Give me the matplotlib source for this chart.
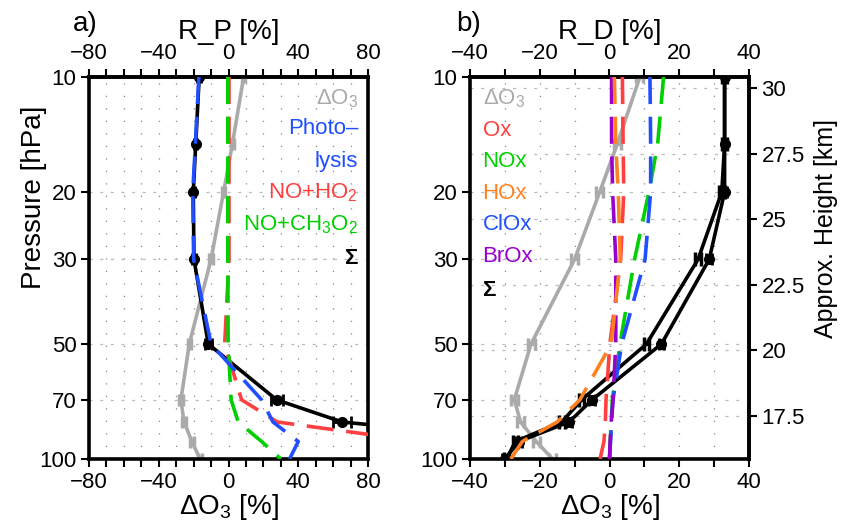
import numpy as np
import matplotlib
matplotlib.use("Agg")
import matplotlib.pyplot as plt
from matplotlib.ticker import NullLocator, FixedLocator, FixedFormatter

plt.rcParams['font.family'] = ['Liberation Sans', 'DejaVu Sans']
plt.rcParams['mathtext.fontset'] = 'custom'
plt.rcParams['mathtext.rm'] = 'Liberation Sans'
plt.rcParams['mathtext.bf'] = 'Liberation Sans:bold'

# ---------------- data ----------------
pressure = [10, 15, 20, 30, 50, 70, 80, 90, 100]          # hPa
d_o3 = [8.7, 2.2, -2.8, -10.0, -22.5, -27.3, -25.5, -21.0, -16.3]
d_o3_err = [1.0, 1.0, 1.0, 1.0, 1.0, 1.0, 1.0, 1.0, 1.0]

# panel a) R_P
rp_photolysis = [-17.0, -19.0, -20.5, -20.0, -10.0, 19.0, 25.5, 40.0, 35.0]
rp_no_ho2 = [0.3, 0.3, 0.3, 0.3, -2.2, 7.5, 28.0, 110.0, 140.0]
rp_no_ch3o2 = [-0.4, -0.4, -0.4, -0.4, -0.2, 1.5, 5.6, 19.0, 30.0]
rp_sum = [-16.8, -18.8, -20.2, -19.8, -11.6, 27.6, 65.2, 178.0, 250.0]
rp_sum_err = [1.0, 1.0, 1.0, 1.0, 2.0, 3.5, 5.0, 5.0, 5.0]

# panel b) R_D
rd_ox = [3.7, 3.9, 4.1, 3.2, 0.1, -1.0, -1.2, -1.6, -2.7]
rd_nox = [15.5, 13.8, 11.3, 7.2, 3.0, 0.8, 0.5, 0.2, 0.0]
rd_hox = [1.4, 1.8, 2.5, 3.1, 0.5, -8.5, -15.0, -25.0, -28.3]
rd_clox = [11.6, 11.8, 11.8, 10.2, 3.5, 1.0, 0.6, 0.3, 0.0]
rd_brox = [0.6, 0.6, 0.9, 1.8, 1.8, 1.0, 0.5, 0.2, 0.0]
rd_sum_a = [33.0, 33.0, 33.0, 28.6, 14.9, -5.0, -11.6, -26.0, -30.0]
rd_sum_b = [33.0, 33.0, 32.2, 25.4, 10.6, -8.0, -13.7, -27.0, -29.5]
rd_sum_err = [0.8, 0.8, 0.8, 0.8, 0.8, 0.8, 0.8, 0.8, 0.8]

p_ticks = [10, 20, 30, 50, 70, 100]
p_ticklabels = ['10', '20', '30', '50', '70', '100']
z_ticks = [17.5, 20, 22.5, 25, 27.5, 30]
z_ticklabels = ['17.5', '20', '22.5', '25', '27.5', '30']
xa_ticks = [-80, -40, 0, 40, 80]
xb_ticks = [-40, -20, 0, 20, 40]

# ---------------- style ----------------
GRAY = '#aaaaaa'
RED = '#ff4040'
GREEN = '#00d000'
BLUE = '#1f4fff'
ORANGE = '#ff8020'
PURPLE = '#9900cc'
DASH = (0, (7.5, 3.5))
LW = 2.6
TICKFS = 16
LABFS = 20
LEGFS = 16

Z0, HSC = 30.43, 6.33
def p2z(p):
    p = np.asarray(p, dtype=float)
    return Z0 - HSC * np.log(np.clip(p, 1e-6, None) / 10.0)
def z2p(z):
    z = np.asarray(z, dtype=float)
    return 10.0 * np.exp((Z0 - z) / HSC)

fig = plt.figure(figsize=(8.41, 5.23), dpi=100)
W, H = 841.0, 523.0
ax1 = fig.add_axes([89 / W, 1 - 459 / H, 279 / W, 382 / H])
ax2 = fig.add_axes([470 / W, 1 - 459 / H, 279 / W, 382 / H])


def setup(ax, xlim, majors, toplabel):
    ax.set_yscale('log')
    ax.set_ylim(100, 10)
    ax.set_xlim(*xlim)
    ax.yaxis.set_major_locator(FixedLocator(p_ticks))
    ax.yaxis.set_major_formatter(FixedFormatter(p_ticklabels))
    ax.yaxis.set_minor_locator(NullLocator())
    minors = list(np.arange(xlim[0], xlim[1] + 1, 10))
    labels = ['%d' % v for v in majors]
    ax.xaxis.set_major_locator(FixedLocator(majors))
    ax.xaxis.set_major_formatter(FixedFormatter([l.replace('-', '\u2212') for l in labels]))
    ax.xaxis.set_minor_locator(FixedLocator(minors))
    ax.tick_params(which='both', direction='out', length=6, width=1.5,
                   labelsize=TICKFS, pad=3)
    for s in ax.spines.values():
        s.set_linewidth(2.6)
    sec = ax.secondary_xaxis('top')
    sec.xaxis.set_major_locator(FixedLocator(majors))
    sec.xaxis.set_major_formatter(FixedFormatter([l.replace('-', '\u2212') for l in labels]))
    sec.xaxis.set_minor_locator(FixedLocator(minors))
    sec.tick_params(which='both', direction='out', length=6, width=1.5,
                    labelsize=TICKFS, pad=3)
    sec.spines['top'].set_linewidth(2.6)
    sec.set_xlabel(toplabel, fontsize=LABFS, labelpad=3)
    ax.set_xlabel(r'$\Delta$O$_3$ [%]', fontsize=LABFS, labelpad=0)
    # grid
    for xv in np.arange(xlim[0] + 10, xlim[1], 10):
        ax.axvline(xv, color='#888888', lw=0.9, ls=(0, (1, 9)), zorder=0.5)
    for pv in [20, 30, 50, 70]:
        ax.axhline(pv, color='#bbbbbb', lw=0.9, ls=(0, (2.5, 6)), zorder=0.5)


setup(ax1, (-80, 80), xa_ticks, 'R_P [%]')
setup(ax2, (-40, 40), xb_ticks, 'R_D [%]')
for zv in z_ticks:
    ax2.axhline(float(z2p(zv)), color='#bbbbbb', lw=0.9, ls=(0, (2.5, 6)), zorder=0.5)

secy = ax2.secondary_yaxis('right', functions=(p2z, z2p))
secy.yaxis.set_major_locator(FixedLocator(z_ticks))
secy.yaxis.set_major_formatter(FixedFormatter(z_ticklabels))
secy.yaxis.set_minor_locator(NullLocator())
secy.tick_params(which='both', direction='out', length=6, width=1.5,
                 labelsize=TICKFS, pad=3)
secy.spines['right'].set_linewidth(2.6)

fig.text(34 / W, 1 - 197 / H, 'Pressure [hPa]', fontsize=LABFS, rotation=90,
         ha='center', va='center')
fig.text(826 / W, 1 - 228 / H, 'Approx. Height [km]', fontsize=18, rotation=90,
         ha='center', va='center')

# ---------------- panel a ----------------
ax1.errorbar(d_o3, pressure, xerr=d_o3_err, color=GRAY, lw=LW, capsize=4,
             capthick=2.5, elinewidth=2, zorder=2)
ax1.errorbar(rp_sum, pressure, xerr=rp_sum_err, color='black', lw=LW, marker='o',
             ms=7, capsize=4, capthick=2, elinewidth=2, zorder=3)
ax1.plot(rp_no_ho2, pressure, color=RED, lw=LW, ls=DASH, zorder=4)
ax1.plot(rp_no_ch3o2, pressure, color=GREEN, lw=LW, ls=DASH, zorder=5)
ax1.plot(rp_photolysis, pressure, color=BLUE, lw=LW, ls=DASH, zorder=6)

leg1 = [(r'$\Delta$O$_3$', GRAY, 0.944, 'normal'), ('Photo\u2013', BLUE, 0.866, 'normal'),
        ('lysis', BLUE, 0.778, 'normal'), (r'NO+HO$_2$', RED, 0.696, 'normal'),
        (r'NO+CH$_3$O$_2$', GREEN, 0.613, 'normal'), ('\u03a3', 'black', 0.525, 'bold')]
for txt, col, yy, wt in leg1:
    ax1.text(0.965, yy, txt, color=col, fontsize=LEGFS, ha='right', va='center',
             fontweight=wt, transform=ax1.transAxes, zorder=10)

# ---------------- panel b ----------------
ax2.errorbar(d_o3, pressure, xerr=d_o3_err, color=GRAY, lw=LW, capsize=4,
             capthick=2.5, elinewidth=2, zorder=2)
ax2.errorbar(rd_sum_b, pressure, xerr=rd_sum_err, color='black', lw=LW,
             capsize=5, capthick=2.5, elinewidth=2, zorder=3)
ax2.errorbar(rd_sum_a, pressure, xerr=rd_sum_err, color='black', lw=LW, marker='o',
             ms=7, capsize=4, capthick=2, elinewidth=2, zorder=3)
ax2.plot(rd_ox, pressure, color=RED, lw=LW, ls=DASH, zorder=4)
ax2.plot(rd_nox, pressure, color=GREEN, lw=LW, ls=DASH, zorder=5)
ax2.plot(rd_clox, pressure, color=BLUE, lw=LW, ls=DASH, zorder=6)
ax2.plot(rd_brox, pressure, color=PURPLE, lw=LW, ls=DASH, zorder=7)
ax2.plot(rd_hox, pressure, color=ORANGE, lw=LW, ls=DASH, zorder=8)

leg2 = [(r'$\Delta$O$_3$', GRAY, 0.944, 'normal'), ('Ox', RED, 0.861, 'normal'),
        ('NOx', GREEN, 0.778, 'normal'), ('HOx', ORANGE, 0.696, 'normal'),
        ('ClOx', BLUE, 0.613, 'normal'), ('BrOx', PURPLE, 0.530, 'normal'),
        ('\u03a3', 'black', 0.442, 'bold')]
for txt, col, yy, wt in leg2:
    ax2.text(0.045, yy, txt, color=col, fontsize=LEGFS, ha='left', va='center',
             fontweight=wt, transform=ax2.transAxes, zorder=10)

fig.text(73 / W, 1 - 24 / H, 'a)', fontsize=LABFS, ha='left', va='center')
fig.text(456 / W, 1 - 24 / H, 'b)', fontsize=LABFS, ha='left', va='center')

fig.savefig('out.png', dpi=100)
